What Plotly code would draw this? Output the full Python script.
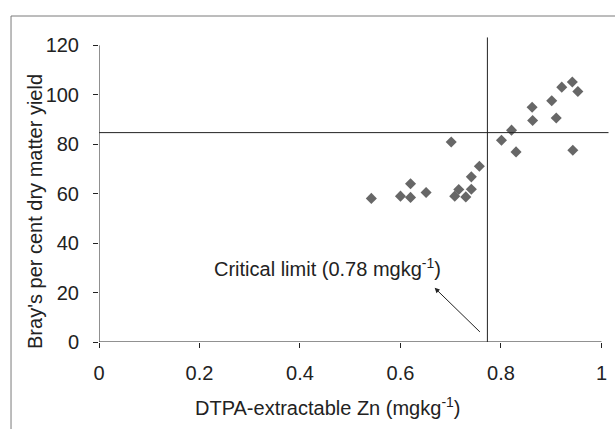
import plotly.graph_objects as go

zn = [0.542, 0.600, 0.620, 0.620, 0.651, 0.701, 0.708, 0.716, 0.730, 0.741, 0.741, 0.757,
      0.801, 0.821, 0.830, 0.862, 0.863, 0.901, 0.910, 0.921, 0.942, 0.943, 0.953]
yield_pct = [58.1, 59.0, 58.5, 64.0, 60.5, 80.9, 59.0, 61.7, 58.7, 61.8, 66.8, 71.1,
             81.6, 85.7, 76.9, 95.0, 89.6, 97.6, 90.6, 103.1, 105.2, 77.6, 101.3]
critical_x = 0.773
critical_y = 84.7
x_ticks = [0, 0.2, 0.4, 0.6, 0.8, 1]
x_tick_text = ["0", "0.2", "0.4", "0.6", "0.8", "1"]
y_ticks = [0, 20, 40, 60, 80, 100, 120]

FONT = "Liberation Sans, Arial, sans-serif"
TXT = "#222222"

fig = go.Figure()
fig.add_trace(go.Scatter(
    x=zn, y=yield_pct, mode="markers",
    marker=dict(symbol="diamond", size=8.5, color="#676767", line=dict(width=0)),
    cliponaxis=False, showlegend=False, hoverinfo="x+y"))

shapes = [
    # axis lines
    dict(type="line", xref="x", yref="y", x0=0, x1=1, y0=0, y1=0, line=dict(color=TXT, width=1)),
    dict(type="line", xref="x", yref="y", x0=0, x1=0, y0=0, y1=120, line=dict(color=TXT, width=1)),
    # critical lines
    dict(type="line", xref="x", yref="y", x0=critical_x, x1=critical_x, y0=0, y1=123.2,
         line=dict(color=TXT, width=1)),
    dict(type="line", xref="x", yref="y", x0=0, x1=1.014, y0=critical_y, y1=critical_y,
         line=dict(color=TXT, width=1)),
    # outer frame (cropped at right/bottom)
    dict(type="rect", xref="paper", yref="paper", x0=-0.1725, x1=1.2, y0=-0.5, y1=1.055,
         line=dict(color="#7a7a7a", width=1), layer="below"),
]

annotations = [
    dict(x=0.454, y=30.3, xref="x", yref="y", text="Critical limit (0.78 mgkg<sup>-1</sup>)",
         showarrow=False, xanchor="center", yanchor="middle",
         font=dict(family=FONT, size=20, color=TXT)),
    dict(x=0.668, y=21.9, xref="x", yref="y", ax=0.761, ay=3.5, axref="x", ayref="y",
         text="", showarrow=True, arrowhead=2, arrowsize=1, arrowwidth=1, arrowcolor=TXT),
    dict(x=0.449, y=-0.210, xref="paper", yref="paper",
         text="DTPA-extractable Zn (mgkg<sup>-1</sup>)", showarrow=False,
         xanchor="center", yanchor="middle",
         font=dict(family=FONT, size=20, color=TXT)),
    dict(x=-0.1255, y=0.424, xref="paper", yref="paper",
         text="Bray's per cent dry matter yield", showarrow=False, textangle=-90,
         xanchor="center", yanchor="middle",
         font=dict(family=FONT, size=20, color=TXT)),
]

fig.update_layout(
    width=615, height=429,
    margin=dict(l=99, r=6, t=33, b=87, pad=0),
    paper_bgcolor="white", plot_bgcolor="white",
    font=dict(family=FONT, size=20, color=TXT),
    shapes=shapes, annotations=annotations,
    xaxis=dict(range=[0, 1.015], tickvals=x_ticks, ticktext=x_tick_text, showgrid=False,
               zeroline=False, showline=False, ticks="outside", ticklen=5, tickcolor=TXT,
               ticklabelstandoff=8, tickfont=dict(family=FONT, size=20, color=TXT)),
    yaxis=dict(range=[0, 125], tickvals=y_ticks, showgrid=False, zeroline=False,
               showline=False, ticks="outside", ticklen=5, tickcolor=TXT,
               ticklabelstandoff=10, tickfont=dict(family=FONT, size=20, color=TXT)),
)

fig.write_html(
    "out.html",
    config={"displayModeBar": False},
    post_script="document.body.style.margin='0';document.body.style.overflow='hidden';",
)
